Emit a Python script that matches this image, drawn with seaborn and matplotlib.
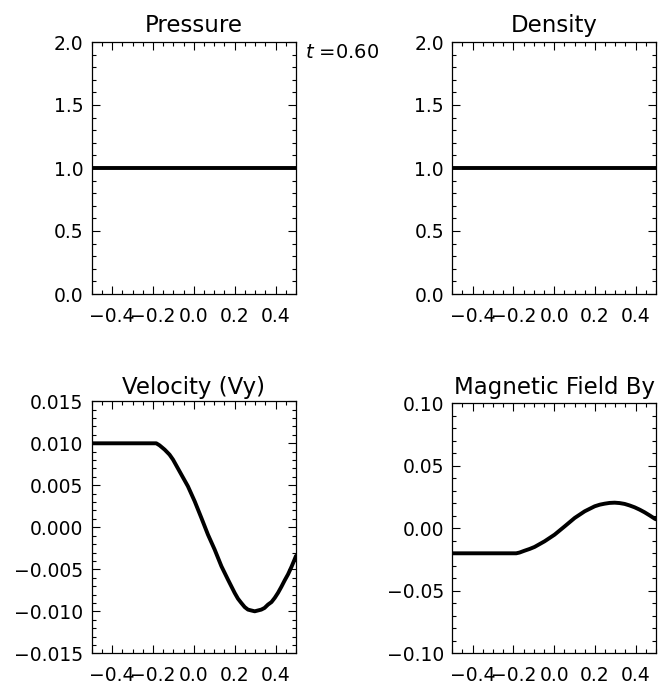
import matplotlib
matplotlib.use("Agg")
import matplotlib.pyplot as plt
import seaborn as sns
import pandas as pd
from matplotlib.ticker import MultipleLocator, FuncFormatter

sns.set_style("ticks")
plt.rcParams['font.family'] = ['DejaVu Sans']
plt.rcParams['text.color'] = 'black'

# ---- data ----
x_flat = [-0.5, -0.25, 0.0, 0.25, 0.5]
pressure = [1.0, 1.0, 1.0, 1.0, 1.0]
density = [1.0, 1.0, 1.0, 1.0, 1.0]

x_vy = [-0.5, -0.184, -0.168, -0.143, -0.119, -0.102, -0.061, -0.029, 0.004, 0.037,
        0.069, 0.102, 0.135, 0.167, 0.200, 0.216, 0.232, 0.249, 0.265, 0.281,
        0.298, 0.314, 0.330, 0.346, 0.363, 0.380, 0.396, 0.412, 0.428, 0.445,
        0.461, 0.478, 0.4935, 0.5]
vy = [0.0100, 0.0100, 0.00976, 0.00925, 0.00865, 0.00806, 0.00627, 0.00488, 0.0031, 0.00111,
      -0.00087, -0.00266, -0.00464, -0.00623, -0.00782, -0.0085, -0.0090, -0.0095, -0.0098, -0.0099,
      -0.0100, -0.0099, -0.0098, -0.0096, -0.0092, -0.0089, -0.0084, -0.0078, -0.0071, -0.0063,
      -0.0056, -0.0047, -0.0038, -0.0034]

x_by = [-0.5, -0.186, -0.170, -0.145, -0.120, -0.096, -0.047, 0.002, 0.052, 0.101,
        0.150, 0.199, 0.224, 0.248, 0.272, 0.297, 0.321, 0.346, 0.370, 0.395,
        0.420, 0.444, 0.469, 0.4935, 0.5]
by = [-0.020, -0.020, -0.0194, -0.0179, -0.0165, -0.0149, -0.0104, -0.0051, 0.0016, 0.0083,
      0.0136, 0.0176, 0.0189, 0.0197, 0.0203, 0.0205, 0.0202, 0.0195, 0.0183, 0.0168,
      0.0149, 0.0128, 0.0103, 0.0077, 0.0072]

titles = ["Pressure", "Density", "Velocity (Vy)", "Magnetic Field By"]
time_label = "$t$ =0.60"

W, H = 663, 684
fig = plt.figure(figsize=(W / 100, H / 100), dpi=100)

def frac(l, t, r, b):
    return [l / W, 1 - b / H, (r - l) / W, (b - t) / H]

ax_p = fig.add_axes(frac(91.7, 42, 296, 294))
ax_d = fig.add_axes(frac(452.3, 42, 656, 294))
ax_v = fig.add_axes(frac(91.7, 401.3, 296, 653.3))
ax_b = fig.add_axes(frac(452.3, 403.3, 656, 653.3))

FS = 13.5
TFS = 16.5
lw = 2.8

sns.lineplot(data=pd.DataFrame({"x": x_flat, "y": pressure}), x="x", y="y", ax=ax_p, color="black", lw=lw)
sns.lineplot(data=pd.DataFrame({"x": x_flat, "y": density}), x="x", y="y", ax=ax_d, color="black", lw=lw)
sns.lineplot(data=pd.DataFrame({"x": x_vy, "y": vy}), x="x", y="y", ax=ax_v, color="black", lw=lw, sort=False)
sns.lineplot(data=pd.DataFrame({"x": x_by, "y": by}), x="x", y="y", ax=ax_b, color="black", lw=lw, sort=False)

def make_fmt(nd):
    def f(v, pos):
        s = f"{v:.{nd}f}"
        if float(s) == 0:
            s = s.lstrip("-")
        return s.replace("-", "\u2212")
    return FuncFormatter(f)

specs = [
    (ax_p, (0, 2), 0.5, 0.1, 1),
    (ax_d, (0, 2), 0.5, 0.1, 1),
    (ax_v, (-0.015, 0.015), 0.005, 0.001, 3),
    (ax_b, (-0.1, 0.1), 0.05, 0.01, 2),
]
for ax, ylim, ymaj, ymin, nd in specs:
    ax.set_xlim(-0.5, 0.5)
    ax.set_ylim(*ylim)
    ax.set_xlabel("")
    ax.set_ylabel("")
    ax.xaxis.set_major_locator(MultipleLocator(0.2))
    ax.xaxis.set_minor_locator(MultipleLocator(0.05))
    ax.xaxis.set_major_formatter(make_fmt(1))
    ax.yaxis.set_major_locator(MultipleLocator(ymaj))
    ax.yaxis.set_minor_locator(MultipleLocator(ymin))
    ax.yaxis.set_major_formatter(make_fmt(nd))
    ax.tick_params(which="both", direction="in", top=True, right=True, color="black",
                   labelsize=FS, labelcolor="black", width=0.8)
    ax.tick_params(which="major", length=6)
    ax.tick_params(which="minor", length=3)
    ax.tick_params(axis="x", pad=9.5)
    ax.tick_params(axis="y", pad=6)
    for s in ax.spines.values():
        s.set_color("black")
        s.set_linewidth(0.9)
        s.set_visible(True)
    ax.set_facecolor("white")

ax_p.set_title(titles[0], fontsize=TFS, pad=7, color="black")
ax_d.set_title(titles[1], fontsize=TFS, pad=7, color="black")
ax_v.set_title(titles[2], fontsize=TFS, pad=5, color="black")
ax_b.set_title(titles[3], fontsize=TFS, pad=7, color="black")

fig.text(305 / W, 1 - 52 / H, time_label, fontsize=14, ha="left", va="center", color="black")

fig.savefig("out.png", dpi=100, facecolor="white")
